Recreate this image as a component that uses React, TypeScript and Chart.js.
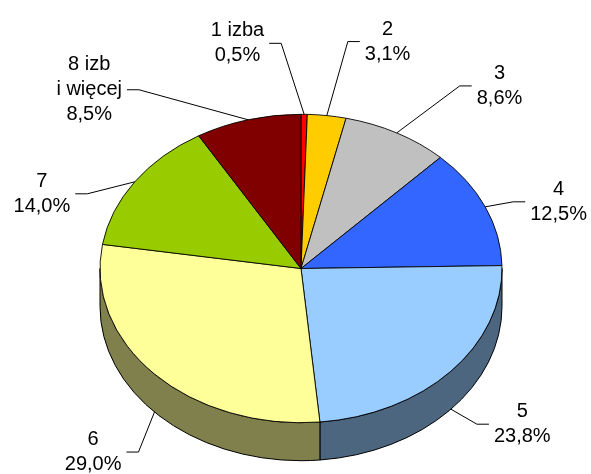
import React, { useEffect, useRef } from 'react';
import { Chart, registerables } from 'chart.js';

Chart.register(...registerables);

// ---- data ----
const categories: string[][] = [
  ['1 izba'],
  ['2'],
  ['3'],
  ['4'],
  ['5'],
  ['6'],
  ['7'],
  ['8 izb', 'i więcej'],
];
const values: number[] = [0.5, 3.1, 8.6, 12.5, 23.8, 29.0, 14.0, 8.5];
const topColors: string[] = ['#FF0000', '#FFCC00', '#C0C0C0', '#3366FF', '#99CCFF', '#FFFF99', '#99CC00', '#800000'];
const sideColors: string[] = ['#800000', '#806600', '#606060', '#1A3380', '#4D6680', '#80804D', '#4D6600', '#400000'];

// label leader layout: elbow offset from slice edge point, and side of text
const labelLayout = [
  { dx: -23, dy: -71, side: -1 },
  { dx: 21, dy: -74, side: 1 },
  { dx: 63, dy: -47, side: 1 },
  { dx: 28, dy: -5, side: 1 },
  { dx: 26, dy: 15, side: 1 },
  { dx: -16, dy: 40, side: -1 },
  { dx: -47.5, dy: 12, side: -1 },
  { dx: -109, dy: -30, side: -1 },
];

const SQUASH = 154.2 / 201;
const DEPTH = 38;
const LINE_H = 25;

const pct = (v: number) => v.toFixed(1).replace('.', ',') + '%';

const pie3d = {
  id: 'pie3d',
  beforeDatasetsDraw(chart: any) {
    const ctx: CanvasRenderingContext2D = chart.ctx;
    const meta = chart.getDatasetMeta(0);
    const { x: cx, y: cy } = meta.data[0].getProps(['x', 'y'], true);
    ctx.save();
    meta.data.forEach((arc: any, i: number) => {
      const { startAngle, endAngle, outerRadius } = arc.getProps(['startAngle', 'endAngle', 'outerRadius'], true);
      const a1 = Math.max(startAngle, 0);
      const a2 = Math.min(endAngle, Math.PI);
      if (a2 <= a1) return;
      ctx.beginPath();
      ctx.ellipse(cx, cy, outerRadius, outerRadius * SQUASH, 0, a1, a2, false);
      ctx.ellipse(cx, cy + DEPTH, outerRadius, outerRadius * SQUASH, 0, a2, a1, true);
      ctx.closePath();
      ctx.fillStyle = sideColors[i];
      ctx.fill();
      ctx.lineWidth = 1;
      ctx.strokeStyle = '#000';
      ctx.stroke();
    });
    ctx.translate(cx, cy);
    ctx.scale(1, SQUASH);
    ctx.translate(-cx, -cy);
  },
  afterDatasetsDraw(chart: any) {
    const ctx: CanvasRenderingContext2D = chart.ctx;
    ctx.restore();
    const meta = chart.getDatasetMeta(0);
    const { x: cx, y: cy } = meta.data[0].getProps(['x', 'y'], true);
    ctx.save();
    ctx.font = '20px "Liberation Sans", Arial, sans-serif';
    ctx.fillStyle = '#000';
    ctx.strokeStyle = '#000';
    ctx.lineWidth = 1;
    ctx.textAlign = 'center';
    ctx.textBaseline = 'middle';
    meta.data.forEach((arc: any, i: number) => {
      const { startAngle, endAngle, outerRadius: r } = arc.getProps(['startAngle', 'endAngle', 'outerRadius'], true);
      const mid = (startAngle + endAngle) / 2;
      const s = Math.sin(mid);
      const ex = cx + r * Math.cos(mid);
      const ey = cy + r * SQUASH * s + (s > 0 ? DEPTH : 0);
      const L = labelLayout[i];
      const bx = ex + L.dx;
      const by = ey + L.dy;
      const hx = bx + L.side * 12;
      ctx.beginPath();
      ctx.moveTo(ex, ey);
      ctx.lineTo(bx, by);
      ctx.lineTo(hx, by);
      ctx.stroke();
      const lines = [...categories[i], pct(values[i])];
      const w = Math.max(...lines.map((t) => ctx.measureText(t).width));
      const tx = hx + L.side * (5 + w / 2);
      lines.forEach((t, j) => {
        ctx.fillText(t, tx, by + (j - (lines.length - 1) / 2) * LINE_H);
      });
    });
    ctx.restore();
  },
};

export default function App() {
  const ref = useRef<HTMLCanvasElement | null>(null);
  useEffect(() => {
    if (!ref.current) return;
    const chart = new Chart(ref.current, {
      type: 'pie',
      data: {
        labels: categories.map((c) => c.join(' ')),
        datasets: [
          {
            data: values,
            backgroundColor: topColors,
            borderColor: '#000',
            borderWidth: 1,
            hoverOffset: 0,
            clip: false,
          } as any,
        ],
      },
      options: {
        responsive: false,
        animation: false,
        devicePixelRatio: 1,
        radius: 201,
        layout: { padding: { left: 99.5, right: 88.5, top: 63, bottom: 0 } },
        plugins: {
          legend: { display: false },
          tooltip: { enabled: false },
          title: { display: false },
        },
        events: [],
      } as any,
      plugins: [pie3d],
    });
    return () => chart.destroy();
  }, []);
  return (
    <div style={{ position: 'absolute', left: 0, top: 0, width: 591, height: 474, background: '#fff' }}>
      <canvas ref={ref} width={591} height={474} />
    </div>
  );
}
